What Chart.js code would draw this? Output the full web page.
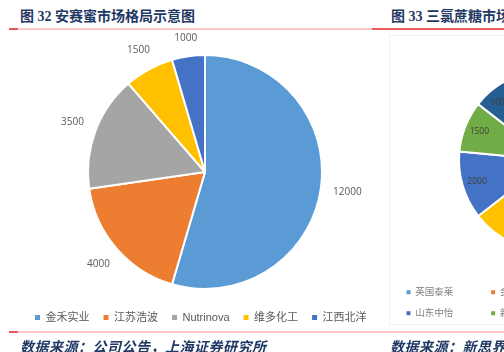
<!DOCTYPE html>
<html>
<head>
<meta charset="utf-8">
<script src="https://cdn.jsdelivr.net/npm/chart.js@4.4.0/dist/chart.umd.min.js"></script>
<style>
    html, body { margin: 0; padding: 0; width: 504px; height: 352px; overflow: hidden; background: #fff; }
    body { position: relative; }
    .titulo { position: absolute; top: 8px; font-family: "Liberation Serif", "Noto Sans CJK SC", serif; font-weight: bold;
              font-size: 14px; line-height: 17px; color: #1F3864; white-space: nowrap; }
    .fonte { position: absolute; top: 337px; font-family: "Noto Sans CJK SC", sans-serif; font-weight: bold; font-style: italic;
             font-size: 14px; line-height: 18px; color: #1F3864; letter-spacing: 0.5px; white-space: nowrap; }
    .linha { position: absolute; height: 2px; }
    .moldura { position: absolute; left: 389px; top: 35px; width: 200px; height: 288px; border: 1px solid #f0f0f0; }
    canvas { position: absolute; }
</style>
</head>
<body>

<div class="titulo" style="left:20px">图 32 安赛蜜市场格局示意图</div>
<div class="titulo" style="left:391px">图 33 三氯蔗糖市场格局示意图</div>

<!-- linhas de cima -->
<div class="linha" style="top:28px; left:9px; width:363px; background:#FFC9C9"></div>
<div class="linha" style="top:28px; left:9px; width:9px; background:#E85555"></div>
<div class="linha" style="top:28px; left:372px; width:132px; background:#EE5B5B"></div>

<div class="moldura"></div>

<canvas id="grafico-ace" width="410" height="333" style="left:0; top:0"></canvas>
<canvas id="grafico-sucra" width="322" height="250" style="left:389px; top:35px"></canvas>
<canvas id="legenda-sucra" width="420" height="110" style="left:389px; top:276px"></canvas>

<!-- linhas de baixo -->
<div class="linha" style="top:331px; left:9px; width:363px; background:#FFC9C9"></div>
<div class="linha" style="top:331px; left:9px; width:9px; background:#E85555"></div>
<div class="linha" style="top:331px; left:372px; width:132px; background:#FFC9C9"></div>

<div class="fonte" style="left:20px">数据来源：公司公告，上海证券研究所</div>
<div class="fonte" style="left:390px">数据来源：新思界产业研究中心</div>

<script>
//*************  Dados  ****************/
// fig 32 - acessulfame (安赛蜜)
const empresas_ace = ["金禾实业", "江苏浩波", "Nutrinova", "维多化工", "江西北洋"]
const capacidade_ace = [12000, 4000, 3500, 1500, 1000]
const cores_ace = ["#5B9BD5", "#ED7D31", "#A5A5A5", "#FFC000", "#4472C4"]

// fig 33 - sucralose (三氯蔗糖), metade direita fica fora da imagem
const empresas_sucra = ["英国泰莱", "金禾实业", "盐城捷康", "广东康宝", "山东中怡", "新琪安", "常茂生物", "其他"]
const capacidade_sucra = [5000, 3500, 850, 2500, 2000, 1500, 1000, 250]
const cores_sucra = ["#5B9BD5", "#ED7D31", "#A5A5A5", "#FFC000", "#4472C4", "#70AD47", "#255E91", "#9E480E"]

const fonte_txt = '"Liberation Sans", "Noto Sans CJK SC", sans-serif'


// legenda sem a borda branca das fatias
function legendaSemBorda(chart){
    let itens = Chart.overrides.doughnut.plugins.legend.labels.generateLabels(chart)
    itens.forEach(it => {
        it.lineWidth = 0
        it.strokeStyle = it.fillStyle
    })
    return itens
}

// rotulos com o valor de cada fatia
// fora = true -> o texto fica encostado à borda (conta a largura/altura do texto)
function rotulos(distancia, cor, tamanho, fora){
    return {
        id: "rotulos",
        afterDatasetsDraw(chart){
            let ctx = chart.ctx
            let meta = chart.getDatasetMeta(0)
            let valores = chart.data.datasets[0].data
            ctx.save()
            ctx.fillStyle = cor
            ctx.font = tamanho + 'px "Open Sans", sans-serif'
            ctx.textAlign = "center"
            ctx.textBaseline = "middle"
            meta.data.forEach((arco, i) => {
                let p = arco.getProps(["x", "y", "startAngle", "endAngle", "outerRadius"], true)
                let meio = (p.startAngle + p.endAngle) / 2
                let cx = Math.cos(meio), cy = Math.sin(meio)
                let r = p.outerRadius + distancia
                if(fora){
                    let w = ctx.measureText(String(valores[i])).width
                    r += Math.abs(cx) * w / 2 + Math.abs(cy) * tamanho / 2
                }
                ctx.fillText(valores[i], p.x + cx * r, p.y + cy * r)
            })
            ctx.restore()
        }
    }
}


//*********** Gráfico 32 **********/
new Chart(document.getElementById("grafico-ace"), {
    type: "pie",
    data: {
        labels: empresas_ace,
        datasets: [{
            data: capacidade_ace,
            backgroundColor: cores_ace,
            borderColor: "#ffffff",
            borderWidth: 2
        }]
    },
    options: {
        responsive: false,
        animation: false,
        radius: 117,
        layout: { padding: { top: 46, bottom: 0, left: 21, right: 21 } },
        plugins: {
            tooltip: { enabled: false },
            legend: {
                position: "bottom",
                align: "start",
                labels: {
                    boxWidth: 5,
                    boxHeight: 5,
                    padding: 14,
                    color: "#595959",
                    font: { size: 11, family: fonte_txt },
                    generateLabels: legendaSemBorda
                }
            }
        }
    },
    plugins: [rotulos(12, "#595959", 10, true)]
})


//*********** Gráfico 33 (cortado) **********/
new Chart(document.getElementById("grafico-sucra"), {
    type: "pie",
    data: {
        labels: empresas_sucra,
        datasets: [{
            data: capacidade_sucra,
            backgroundColor: cores_sucra,
            borderColor: "#ffffff",
            borderWidth: 2
        }]
    },
    options: {
        responsive: false,
        animation: false,
        radius: 91,
        rotation: -25,
        layout: { padding: 0 },
        plugins: {
            tooltip: { enabled: false },
            legend: { display: false }
        }
    },
    plugins: [rotulos(-15, "#404040", 8.5, false)]
})

// legenda do 33 num canvas proprio (grelha de 4 colunas)
new Chart(document.getElementById("legenda-sucra"), {
    type: "pie",
    data: {
        labels: empresas_sucra,
        datasets: [{
            data: capacidade_sucra,
            backgroundColor: cores_sucra,
            borderWidth: 0
        }]
    },
    options: {
        responsive: false,
        animation: false,
        radius: 0,
        layout: { padding: { left: 6, top: 0, right: 0, bottom: 0 } },
        plugins: {
            tooltip: { enabled: false },
            legend: {
                position: "top",
                align: "start",
                labels: {
                    boxWidth: 4,
                    boxHeight: 4,
                    padding: 11.5,
                    color: "#7F7F7F",
                    font: { size: 9.5, family: fonte_txt },
                    generateLabels: function(chart){
                        let itens = legendaSemBorda(chart)
                        itens.forEach(it => { it.text = it.text + "          " })
                        return itens
                    }
                }
            }
        }
    }
})
</script>
</body>
</html>
